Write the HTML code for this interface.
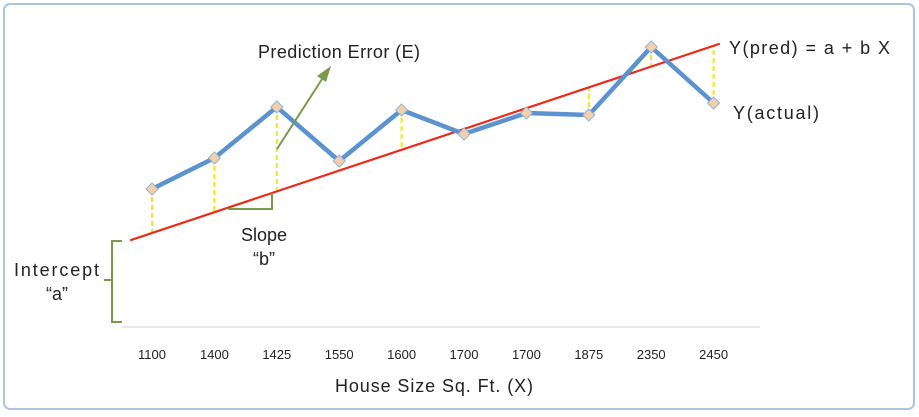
<!DOCTYPE html>
<html><head><meta charset="utf-8"><style>
html,body{margin:0;padding:0;background:#fff;}
svg{display:block;font-family:"Liberation Sans",sans-serif;}
</style></head><body>
<svg width="919" height="417">
<rect x="4" y="4" width="910" height="405" rx="6" fill="#fff" stroke="#a9c4e4" stroke-width="2"/>
<line x1="122" y1="327" x2="760" y2="327" stroke="#e2e2e2" stroke-width="1.5"/>
<g id="errs"></g><g id="reg"></g><g id="act"></g><g id="xt"></g>
<path d="M228 209 H272 V193" fill="none" stroke="#7a9a4a" stroke-width="2"/>
<text x="264" y="241" font-size="18" text-anchor="middle" fill="#222">Slope</text>
<text x="264" y="265" font-size="18" text-anchor="middle" fill="#222">“b”</text>
<line x1="277" y1="149" x2="324" y2="76" stroke="#7a9a4a" stroke-width="2"/>
<polygon points="331,66 326,82 317,76" fill="#7a9a4a"/>
<text x="258" y="58" font-size="18" textLength="162" fill="#222">Prediction Error (E)</text>
<path d="M122 241 H112 V280 H104 M112 280 V322 H122" fill="none" stroke="#7a9a4a" stroke-width="2"/>
<text x="14" y="276" font-size="18" textLength="85" fill="#222">Intercept</text>
<text x="46" y="300" font-size="18" fill="#222">“a”</text>
<text x="729" y="54" font-size="18" textLength="161" fill="#222">Y(pred) = a + b X</text>
<text x="733" y="119" font-size="18" textLength="86" fill="#222">Y(actual)</text>
<text x="335" y="392" font-size="18" textLength="198" fill="#222">House Size Sq. Ft. (X)</text>
</svg>
<script>
const categories=["1100","1400","1425","1550","1600","1700","1700","1875","2350","2450"];
const actualValues=[138,169,220,166,217,193,214,212,280,224];
const interceptA=94;
const slopeB=20.8;
const NS="http://www.w3.org/2000/svg";
function xScale(i){return 152+i*62.4;}
function yScale(v){return 327-v;}
function pred(i){return interceptA+slopeB*i;}
function mk(tag,attrs,parent){const e=document.createElementNS(NS,tag);for(const k in attrs)e.setAttribute(k,attrs[k]);document.getElementById(parent).appendChild(e);return e;}
const r=mk("line",{x1:xScale(-0.35),y1:yScale(pred(-0.35)),x2:xScale(9.1),y2:yScale(pred(9.1)),stroke:"#ee2b1a","stroke-width":2.2},"reg");


categories.forEach((c,i)=>{
 const e=mk("line",{x1:xScale(i),x2:xScale(i),y1:yScale(actualValues[i]),y2:yScale(pred(i)),stroke:"#f2e41a","stroke-width":2,"stroke-dasharray":"5,3"},"errs");
 
 
});
const pts=actualValues.map((v,i)=>xScale(i)+","+yScale(v)).join(" ");
const pl=mk("polyline",{points:pts,fill:"none",stroke:"#5b93cf","stroke-width":4.5,"stroke-linejoin":"round"},"act");


actualValues.forEach((v,i)=>{
 const x=xScale(i),y=yScale(v);
 const m=mk("polygon",{points:`${x},${y-6} ${x+6},${y} ${x},${y+6} ${x-6},${y}`,fill:"#f6cfa8",stroke:"#8fb3dc","stroke-width":1},"act");
 
 
 const t=mk("text",{x:x,y:359,"font-size":13,"text-anchor":"middle",fill:"#222"},"xt");
 t.textContent=categories[i];
 
 
});
</script>
</body></html>
